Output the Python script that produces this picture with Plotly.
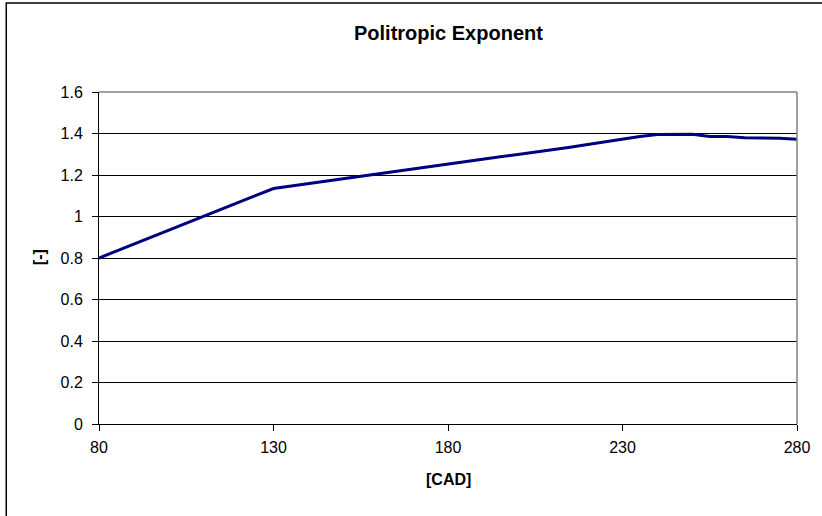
import plotly.graph_objects as go

cad = [80, 85, 90, 95, 100, 105, 110, 115, 120, 125, 130,
       135, 140, 145, 150, 155, 160, 165, 170, 175, 180,
       185, 190, 195, 200, 205, 210, 215, 220, 225, 230,
       235, 240, 245, 250, 255, 260, 265, 270, 275, 280]
exponent = [0.800, 0.834, 0.867, 0.901, 0.934, 0.968, 1.001, 1.035, 1.068, 1.102, 1.135,
            1.147, 1.158, 1.170, 1.182, 1.194, 1.206, 1.218, 1.230, 1.242, 1.255,
            1.266, 1.277, 1.288, 1.299, 1.310, 1.321, 1.334, 1.347, 1.360, 1.372,
            1.386, 1.395, 1.396, 1.396, 1.386, 1.385, 1.379, 1.378, 1.377, 1.372]

x_ticks = [80, 130, 180, 230, 280]
y_ticks = [0, 0.2, 0.4, 0.6, 0.8, 1, 1.2, 1.4, 1.6]
y_tick_text = ["0", "0.2", "0.4", "0.6", "0.8", "1", "1.2", "1.4", "1.6"]

FONT = "Liberation Sans, Arial, sans-serif"

fig = go.Figure()
fig.add_trace(go.Scatter(x=cad, y=exponent, mode="lines",
                         line=dict(color="#000080", width=3), showlegend=False))

fig.update_layout(
    width=822, height=516,
    margin=dict(l=99, r=23, t=92, b=92),
    paper_bgcolor="white", plot_bgcolor="white",
    font=dict(family=FONT, color="black", size=16),
    xaxis=dict(range=[80, 280], tickvals=x_ticks, showgrid=False, zeroline=False,
               showline=True, linecolor="black", linewidth=1,
               ticks="outside", ticklen=6, tickcolor="black",
               ticklabelstandoff=3, tickfont=dict(size=16)),
    yaxis=dict(range=[0, 1.6], tickvals=y_ticks, ticktext=y_tick_text,
               showgrid=True, gridcolor="black", gridwidth=1, zeroline=False,
               showline=True, linecolor="black", linewidth=1,
               ticks="outside", ticklen=6, tickcolor="black",
               ticklabelstandoff=6, tickfont=dict(size=16)),
    shapes=[
        dict(type="line", xref="paper", yref="paper", x0=0, x1=1, y0=1, y1=1,
             line=dict(color="#808080", width=1.5)),
        dict(type="line", xref="paper", yref="paper", x0=1, x1=1, y0=0, y1=1,
             line=dict(color="#808080", width=1.5)),
        dict(type="rect", xref="paper", yref="paper",
             x0=(6 - 99) / 700, x1=(840 - 99) / 700,
             y0=(424 - 540) / 332, y1=(424 - 3) / 332,
             line=dict(color="black", width=1.5)),
    ],
    annotations=[
        dict(text="<b>Politropic Exponent</b>", xref="paper", yref="paper",
             x=0.5, y=(424 - 33) / 332, showarrow=False,
             font=dict(size=20), xanchor="center", yanchor="middle"),
        dict(text="<b>[CAD]</b>", xref="paper", yref="paper",
             x=0.5, y=(424 - 480) / 332, showarrow=False,
             font=dict(size=16), xanchor="center", yanchor="middle"),
        dict(text="<b>[-]</b>", xref="paper", yref="paper",
             x=(39 - 99) / 700, y=(424 - 257) / 332, showarrow=False,
             textangle=-90, font=dict(size=16), xanchor="center", yanchor="middle"),
    ],
)

fig.write_html("out.html", config={"displayModeBar": False},
               post_script="document.body.style.margin='0';document.body.style.overflow='hidden';")
